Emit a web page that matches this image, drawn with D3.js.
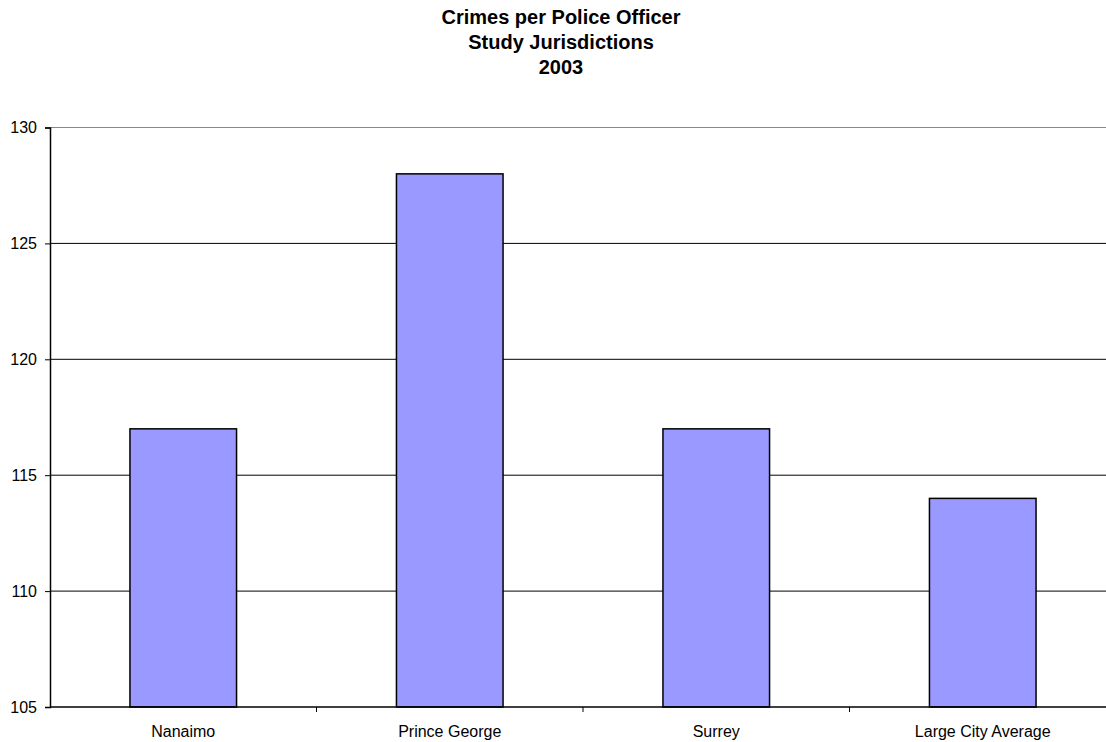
<!DOCTYPE html>
<html>
<head>
<meta charset="utf-8">
<script src="https://cdn.jsdelivr.net/npm/d3@7"></script>
<style>
  body { margin: 0; background: #fff; }
  svg { font-family: "Liberation Sans", Arial, sans-serif; }
</style>
</head>
<body>
<div id="container"></div>
<script>
const w = 1106;
const h = 742;
const plotLeft = 50;
const plotTop = 127.5;
const plotBottom = 707;
const bandW = 266.5;

const titleLines = ['Crimes per Police Officer', 'Study Jurisdictions', '2003'];
const categories = ['Nanaimo', 'Prince George', 'Surrey', 'Large City Average'];
const values = [117, 128, 117, 114];
const yTicks = [105, 110, 115, 120, 125, 130];

const svg = d3.select('#container')
  .append('svg')
  .attr('width', w)
  .attr('height', h);

const xScale = d3.scaleBand()
  .domain(categories)
  .range([plotLeft, plotLeft + bandW * categories.length])
  .paddingInner(0.6)
  .paddingOuter(0.3);
const yScale = d3.scaleLinear()
  .domain([105, 130])
  .range([plotBottom, plotTop]);

// title
svg.append('g')
  .selectAll('text')
  .data(titleLines)
  .enter()
  .append('text')
  .attr('x', 561)
  .attr('y', (d, i) => 24 + i * 25)
  .attr('text-anchor', 'middle')
  .style('font-size', '20px')
  .style('font-weight', 'bold')
  .text(d => d);

// gridlines
svg.append('g')
  .selectAll('line')
  .data(yTicks.slice(1))
  .enter()
  .append('line')
  .attr('x1', plotLeft)
  .attr('x2', w)
  .attr('y1', d => yScale(d))
  .attr('y2', d => yScale(d))
  .attr('stroke', d => d === 130 ? '#888' : '#000')
  .attr('stroke-width', 1);

// bars
svg.append('g')
  .selectAll('rect')
  .data(values)
  .enter()
  .append('rect')
  .attr('x', (d, i) => xScale(categories[i]))
  .attr('y', d => yScale(d))
  .attr('width', xScale.bandwidth())
  .attr('height', d => yScale(105) - yScale(d))
  .attr('fill', '#9999ff')
  .attr('stroke', '#000')
  .attr('stroke-width', 1.5);

// y axis
const yAxis = d3.axisLeft(yScale).tickValues(yTicks).tickSize(5).tickPadding(8);
const yg = svg.append('g')
  .attr('transform', `translate(${plotLeft},0)`)
  .call(yAxis);
yg.attr('font-family', null).attr('font-size', null);
yg.select('.domain').attr('stroke', '#000').attr('stroke-width', 1.5);
yg.selectAll('text').style('font-size', '16px').attr('fill', '#000');

// x axis
const xg = svg.append('g')
  .attr('transform', `translate(0,${plotBottom})`);
xg.append('line')
  .attr('x1', plotLeft)
  .attr('x2', w)
  .attr('stroke', '#000')
  .attr('stroke-width', 1.5);
xg.selectAll('line.tick')
  .data(d3.range(1, categories.length))
  .enter()
  .append('line')
  .attr('class', 'tick')
  .attr('x1', i => plotLeft + i * bandW)
  .attr('x2', i => plotLeft + i * bandW)
  .attr('y1', 0)
  .attr('y2', 5)
  .attr('stroke', '#000');
xg.selectAll('text')
  .data(categories)
  .enter()
  .append('text')
  .attr('x', d => xScale(d) + xScale.bandwidth() / 2)
  .attr('y', 30)
  .attr('text-anchor', 'middle')
  .style('font-size', '16px')
  .text(d => d);
</script>
</body>
</html>
